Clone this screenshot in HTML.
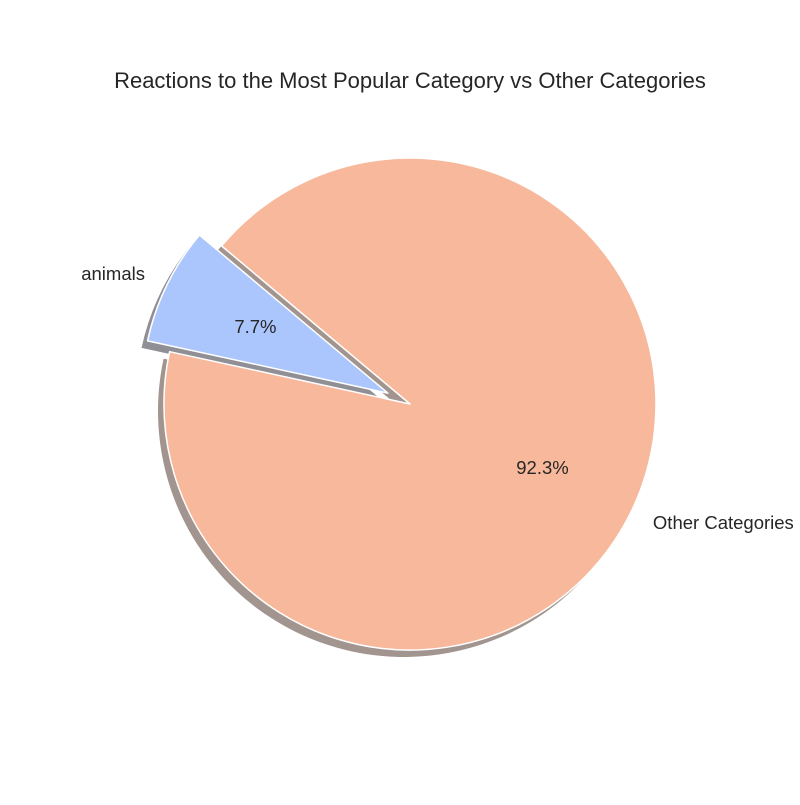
<!DOCTYPE html>
<html><head><meta charset="utf-8"><style>
body{margin:0;background:#fff;}
svg text{font-family:"Liberation Sans","DejaVu Sans",sans-serif;fill:#262626;}
</style></head><body>
<svg id="chart" width="800" height="800" viewBox="0 0 800 800">
<text x="410" y="88" font-size="22" text-anchor="middle">Reactions to the Most Popular Category vs Other Categories</text>
</svg>
<script>
const categories = ["animals", "Other Categories"];
const values = [7.7, 92.3];
const explodeVals = [0.1, 0];
const pctLabels = ["7.7%", "92.3%"];
const colors = ["#abc6fd", "#f7b89c"];
const shadowColors = ["#8f8f95", "#a29590"];

const svg = document.getElementById('chart');
const NS = 'http://www.w3.org/2000/svg';
const cx = 410, cy = 404, R = 246, startAngle = 140;
const total = values.reduce((a,b)=>a+b,0);
function pt(x,y,deg,r){const a=deg*Math.PI/180;return [x+r*Math.cos(a), y-r*Math.sin(a)];}
function wedgePath(x,y,a1,a2){
  const p1=pt(x,y,a1,R), p2=pt(x,y,a2,R);
  const large=(a2-a1)>180?1:0;
  return `M${x},${y} L${p1[0]},${p1[1]} A${R},${R} 0 ${large} 0 ${p2[0]},${p2[1]} Z`;
}
const geo=[];
let a=startAngle;
values.forEach((v,i)=>{
  const span=v/total*360, mid=a+span/2;
  const [ex,ey]=pt(cx,cy,mid,explodeVals[i]*R);
  geo.push({a1:a,a2:a+span,mid,ex,ey}); a+=span;
});
geo.forEach((g,i)=>{
  const s=document.createElementNS(NS,'path');
  s.setAttribute('d',wedgePath(g.ex-6,g.ey+7,g.a1,g.a2));
  s.setAttribute('fill',shadowColors[i]);
  
  
  svg.appendChild(s);
});
geo.forEach((g,i)=>{
  const p=document.createElementNS(NS,'path');
  p.setAttribute('d',wedgePath(g.ex,g.ey,g.a1,g.a2));
  p.setAttribute('fill',colors[i]);
  p.setAttribute('stroke','#fff');
  p.setAttribute('stroke-width','1.5');
  p.setAttribute('stroke-linejoin','round');
  
  
  svg.appendChild(p);
});
geo.forEach((g,i)=>{
  const [lx,ly]=pt(g.ex,g.ey,g.mid,1.1*R);
  const t=document.createElementNS(NS,'text');
  t.setAttribute('x',lx);t.setAttribute('y',ly+6);
  t.setAttribute('font-size','18.5');
  t.setAttribute('text-anchor',lx<cx?'end':'start');
  t.textContent=categories[i];
  
  
  svg.appendChild(t);
  const [px,py]=pt(g.ex,g.ey,g.mid,0.6*R);
  const q=document.createElementNS(NS,'text');
  q.setAttribute('x',px);q.setAttribute('y',py+5);
  q.setAttribute('font-size','18.5');
  q.setAttribute('text-anchor','middle');
  q.textContent=pctLabels[i];
  
  
  svg.appendChild(q);
});
</script>
</body></html>
